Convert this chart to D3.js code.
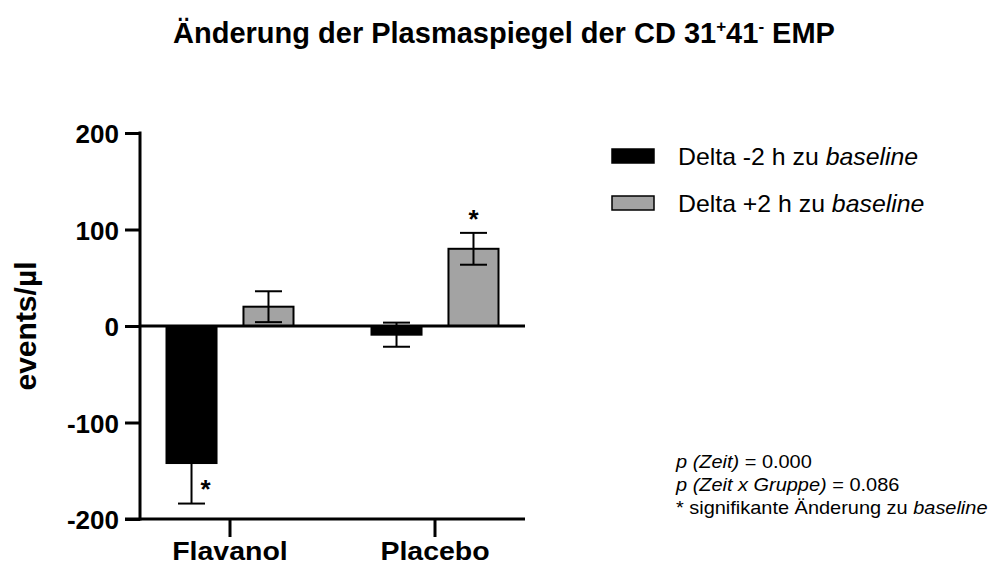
<!DOCTYPE html>
<html>
<head>
<meta charset="utf-8">
<script src="https://cdn.jsdelivr.net/npm/d3@7"></script>
<style>
  html, body { margin: 0; padding: 0; background: #fff; }
  svg { display: block; }
  text { font-family: "Liberation Sans", Arial, Helvetica, sans-serif; fill: #000; }
</style>
</head>
<body>
<svg id="chart" width="996" height="566"></svg>
<script>
// Groups and plotted series
const categories = ["Flavanol", "Placebo"];
const seriesKeys = ["minus2", "plus2"];
const seriesLabels = ["Delta -2 h zu ", "Delta +2 h zu "];

// Mean change vs. baseline (events/µl) and error (SEM)
const deltaMinus2 = [-142, -9];
const deltaPlus2 = [20, 80];
const errMinus2 = [42, 12.5];
const errPlus2 = [16, 16.5];

// Significant change vs. baseline
const sigMinus2 = [true, false];
const sigPlus2 = [false, true];

const yTicks = [-200, -100, 0, 100, 200];
const statLines = [
  [["p (Zeit)", true], [" = 0.000", false]],
  [["p (Zeit x Gruppe)", true], [" = 0.086", false]],
  [["* signifikante Änderung zu ", false], ["baseline", true]]
];

// Build the table used for drawing
const values = { minus2: deltaMinus2, plus2: deltaPlus2 };
const errors = { minus2: errMinus2, plus2: errPlus2 };
const sigs = { minus2: sigMinus2, plus2: sigPlus2 };
const fills = { minus2: "#000000", plus2: "#a3a3a3" };
const rows = [];
categories.forEach((c, i) => {
  seriesKeys.forEach(k => {
    rows.push({ cat: c, key: k, value: values[k][i], err: errors[k][i], sig: sigs[k][i] });
  });
});

// Layout
const axisX = 140, plotRight = 525, tickLen = 15;
const svg = d3.select("#chart");

const y = d3.scaleLinear().domain([-200, 200]).range([519, 133]);
const x = d3.scaleBand().domain(categories).range([127.5, 537.5]);
const xs = d3.scaleBand().domain(seriesKeys).range([-63.5, 63.5]).paddingInner(0.35);

// Title
const title = svg.append("text")
  .attr("transform", "translate(504,43)")
  .attr("text-anchor", "middle")
  .attr("font-size", 29)
  .attr("font-weight", "bold");
title.append("tspan").text("Änderung der Plasmaspiegel der CD 31");
title.append("tspan").attr("font-size", 17).attr("dy", -11).text("+");
title.append("tspan").attr("dy", 11).text("41");
title.append("tspan").attr("font-size", 17).attr("dy", -11).text("-");
title.append("tspan").attr("dy", 11).text(" EMP");

// Bars
const bars = svg.append("g");
bars.selectAll("rect")
  .data(rows)
  .join("rect")
  .attr("x", d => x(d.cat) + x.bandwidth() / 2 + xs(d.key))
  .attr("width", xs.bandwidth())
  .attr("y", d => y(Math.max(0, d.value)))
  .attr("height", d => Math.abs(y(d.value) - y(0)))
  .attr("fill", d => fills[d.key])
  .attr("stroke", "#000")
  .attr("stroke-width", 2);

// Error bars
const capW = 27;
const eb = svg.append("g").attr("stroke", "#000").attr("stroke-width", 2).attr("fill", "none");
rows.forEach(d => {
  const cx = x(d.cat) + x.bandwidth() / 2 + xs(d.key) + xs.bandwidth() / 2;
  const y1 = y(d.value - d.err), y2 = y(d.value + d.err);
  eb.append("line").attr("x1", cx).attr("x2", cx).attr("y1", y1).attr("y2", y2);
  eb.append("line").attr("x1", cx - capW / 2).attr("x2", cx + capW / 2).attr("y1", y1).attr("y2", y1);
  eb.append("line").attr("x1", cx - capW / 2).attr("x2", cx + capW / 2).attr("y1", y2).attr("y2", y2);
});

// Significance stars
rows.filter(d => d.sig).forEach(d => {
  const cx = x(d.cat) + x.bandwidth() / 2 + xs(d.key) + xs.bandwidth() / 2;
  const neg = d.value < 0;
  svg.append("text")
    .attr("transform", neg
      ? `translate(${cx + 9},${y(d.value - d.err) - 6})`
      : `translate(${cx},${y(d.value + d.err) - 5})`)
    .attr("text-anchor", neg ? "start" : "middle")
    .attr("font-size", 26)
    .attr("font-weight", "bold")
    .text("*");
});

// Zero line
svg.append("line")
  .attr("x1", axisX).attr("x2", plotRight)
  .attr("y1", y(0)).attr("y2", y(0))
  .attr("stroke", "#000").attr("stroke-width", 3);

// Y axis
const yAxis = svg.append("g")
  .attr("transform", `translate(${axisX},0)`)
  .call(d3.axisLeft(y).tickValues(yTicks).tickSize(tickLen).tickSizeOuter(0)
    .tickFormat(d => String(d)));
yAxis.select(".domain").attr("stroke-width", 3).attr("d", `M0,${y(200) - 1.5}V${y(-200) + 1.5}`);
yAxis.selectAll(".tick line").attr("stroke-width", 3);
yAxis.selectAll(".tick text")
  .attr("x", null).attr("dy", null)
  .attr("transform", `translate(${-tickLen - 6},9.5)`)
  .attr("font-size", 26)
  .attr("font-weight", "bold")
  .attr("font-family", null)
  .attr("fill", "#000");

// X axis
const xAxis = svg.append("g")
  .attr("transform", `translate(0,${y(-200)})`)
  .call(d3.axisBottom(x).tickSize(18).tickSizeOuter(0));
xAxis.select(".domain").attr("stroke-width", 3).attr("d", `M${axisX - tickLen},0H${plotRight}`);
xAxis.selectAll(".tick line").attr("stroke-width", 3);
xAxis.selectAll(".tick text")
  .attr("y", null).attr("dy", null)
  .attr("transform", "translate(0,41) scale(1.14,1)")
  .attr("font-size", 25)
  .attr("font-weight", "bold")
  .attr("font-family", null)
  .attr("fill", "#000");

// Y axis title
svg.append("text")
  .attr("transform", `translate(36,${y(0)}) rotate(-90)`)
  .attr("text-anchor", "middle")
  .attr("font-size", 30)
  .attr("font-weight", "bold")
  .text("events/µl");

// Legend
const legend = svg.append("g");
seriesKeys.forEach((k, i) => {
  const ly = 156 + i * 47;
  legend.append("rect")
    .attr("x", 612).attr("y", ly - 7).attr("width", 42).attr("height", 14)
    .attr("fill", fills[k]).attr("stroke", "#000").attr("stroke-width", 1.5);
  const t = legend.append("text")
    .attr("transform", `translate(678,${ly + 8.5}) scale(1.08,1)`)
    .attr("font-size", 23);
  t.append("tspan").text(seriesLabels[i]);
  t.append("tspan").attr("font-style", "italic").text("baseline");
});

// Statistics note
const notes = svg.append("g");
statLines.forEach((parts, i) => {
  const t = notes.append("text")
    .attr("transform", `translate(676,${468 + i * 23}) scale(1.05,1)`)
    .attr("font-size", 19);
  parts.forEach(([s, it]) => t.append("tspan").attr("font-style", it ? "italic" : "normal").text(s));
});
</script>
</body>
</html>
